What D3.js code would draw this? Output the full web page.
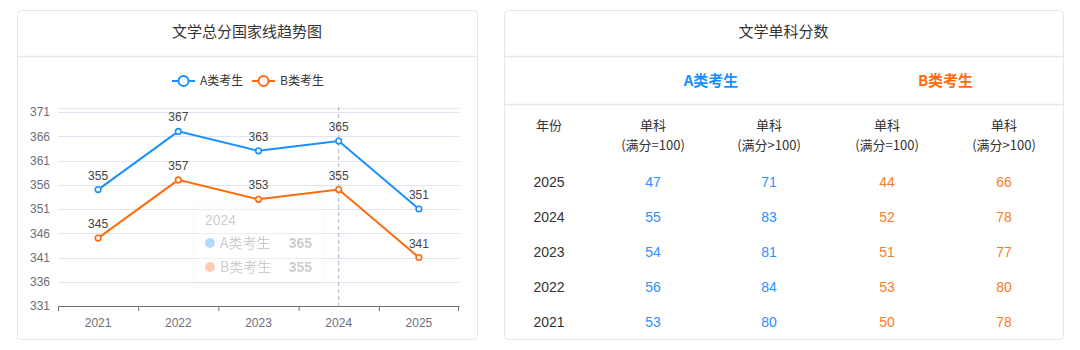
<!DOCTYPE html>
<html><head><meta charset="utf-8">
<script src="https://cdn.jsdelivr.net/npm/d3@7/dist/d3.min.js"></script>
<style>
html,body{margin:0;padding:0;background:#fff;}
svg{display:block;font-family:"Liberation Sans","Noto Sans CJK SC",sans-serif;}
</style></head>
<body>
<svg id="c" width="1080" height="350"></svg>
<script>
// ---- data ----
const years = ["2021","2022","2023","2024","2025"];
const seriesNames = ["A类考生","B类考生"];
const scoreA = [355,367,363,365,351];
const scoreB = [345,357,353,355,341];
const yTicks = [331,336,341,346,351,356,361,366,371];
const tableYears = ["2025","2024","2023","2022","2021"];
const aEq100 = [47,55,54,56,53];
const aGt100 = [71,83,81,84,80];
const bEq100 = [44,52,51,53,50];
const bGt100 = [66,78,77,80,78];
const colHeads = ["单科","(满分=100)","单科","(满分>100)"];

const BLUE="#1890ff", ORANGE="#ff6a0d";
const svg=d3.select("#c");
const CJK='"Noto Sans CJK SC","Liberation Sans",sans-serif';

// cards
function card(x,y,w,h,title,divs){
  svg.append("rect").attr("x",x+0.5).attr("y",y+0.5).attr("width",w).attr("height",h)
    .attr("rx",4).attr("fill","#fff").attr("stroke","#e6e6e6");
  svg.append("text").attr("x",x+w/2).attr("y",y+27).attr("text-anchor","middle")
    .attr("font-size",15).attr("fill","#333").style("font-family",CJK).text(title);
  divs.forEach(d=>svg.append("line").attr("x1",x+1).attr("x2",x+w).attr("y1",d+0.5).attr("y2",d+0.5)
    .attr("stroke","#e8e8e8").attr("stroke-width",1.5));
}
card(17,10,460,329,"文学总分国家线趋势图",[56]);
card(504,10,559,329,"文学单科分数",[56,104]);

// ---- line chart ----
const x=d3.scaleBand().domain(years).range([58,459]);
const y=d3.scaleLinear().domain([331,371]).range([306,112]);
const g=svg.append("g");
// top extra split line (axis max)
g.append("line").attr("x1",58).attr("x2",459).attr("y1",108.5).attr("y2",108.5).attr("stroke","#e0e6f1");
g.selectAll(".grid").data(yTicks.slice(1)).join("line")
  .attr("x1",58).attr("x2",459).attr("y1",d=>Math.round(y(d))+0.5).attr("y2",d=>Math.round(y(d))+0.5)
  .attr("stroke","#e0e6f1");
const yAxis=g.append("g").attr("transform","translate(58,0)")
  .call(d3.axisLeft(y).tickValues(yTicks).tickSize(0).tickPadding(8));
yAxis.select(".domain").remove();
yAxis.selectAll("text").attr("fill","#6e7079").attr("font-size",12).style("font-family","Liberation Sans");
const xAxis=g.append("g").attr("transform","translate(0,306)")
  .call(d3.axisBottom(x).tickSize(5).tickPadding(7));
xAxis.select(".domain").attr("stroke","#6e7079").attr("d","M58.5,0.5H459.5");
xAxis.selectAll(".tick line").remove();
// boundary ticks
const bounds=[58,138,218,298,379,459];
xAxis.selectAll(".bt").data(years.concat(["end"])).join("line")
  .attr("x1",(d,i)=>i<years.length?x(d)+0.5:x.range()[1]-0.5).attr("x2",(d,i)=>i<years.length?x(d)+0.5:x.range()[1]-0.5)
  .attr("y1",0).attr("y2",5).attr("stroke","#6e7079");
xAxis.selectAll("text").attr("fill","#6e7079").attr("font-size",12).style("font-family","Liberation Sans");

// axis pointer
g.append("line").attr("x1",x("2024")+x.bandwidth()/2).attr("x2",x("2024")+x.bandwidth()/2)
  .attr("y1",107).attr("y2",306).attr("stroke","#b0b3c0").attr("stroke-dasharray","4,3");

const cx=d=>x(d)+x.bandwidth()/2;
[[scoreA,BLUE],[scoreB,ORANGE]].forEach(([vals,col])=>{
  const pts=years.map((yr,i)=>[cx(yr),y(vals[i])]);
  g.append("path").attr("d",d3.line()(pts)).attr("fill","none").attr("stroke",col).attr("stroke-width",2);
  g.selectAll(null).data(pts).join("circle").attr("cx",d=>d[0]).attr("cy",d=>d[1]).attr("r",2.8)
    .attr("fill","#fff").attr("stroke",col).attr("stroke-width",1.6);
  g.selectAll(null).data(vals).join("text").attr("x",(d,i)=>cx(years[i])).attr("y",(d)=>y(d)-10)
    .attr("text-anchor","middle").attr("font-size",12).attr("fill","#444").text(d=>d);
});

// legend
const leg=svg.append("g");
[[seriesNames[0],BLUE,172],[seriesNames[1],ORANGE,252]].forEach(([n,c,lx])=>{
  leg.append("line").attr("x1",lx).attr("x2",lx+23).attr("y1",81).attr("y2",81).attr("stroke",c).attr("stroke-width",2);
  leg.append("circle").attr("cx",lx+11.5).attr("cy",81).attr("r",5).attr("fill","#fff").attr("stroke",c).attr("stroke-width",2);
  leg.append("text").attr("x",lx+28).attr("y",85).attr("font-size",12).attr("fill","#333").style("font-family",CJK).text(n);
});

// faded tooltip
const defs=svg.append("defs");
const f=defs.append("filter").attr("id","sh").attr("x","-20%").attr("y","-20%").attr("width","140%").attr("height","140%");
f.append("feDropShadow").attr("dx",0).attr("dy",2).attr("stdDeviation",4).attr("flood-color","#000").attr("flood-opacity",0.12);
const tt=svg.append("g").attr("opacity",0.33);
tt.append("rect").attr("x",195).attr("y",203).attr("width",127).attr("height",79).attr("rx",4)
  .attr("fill","#fff").attr("filter","url(#sh)");
tt.append("text").attr("x",205).attr("y",225).attr("font-size",14).attr("fill","#666").text(years[3]);
[[seriesNames[0],BLUE,scoreA[3],243],[seriesNames[1],ORANGE,scoreB[3],267]].forEach(([n,c,v,ty])=>{
  tt.append("circle").attr("cx",210).attr("cy",ty).attr("r",5).attr("fill",c);
  tt.append("text").attr("x",220).attr("y",ty+5).attr("font-size",14).attr("fill","#666").style("font-family",CJK).text(n);
  tt.append("text").attr("x",312).attr("y",ty+5).attr("text-anchor","end").attr("font-size",14).attr("font-weight","bold").attr("fill","#666").text(v);
});

// ---- table ----
const colX=[549,653,769,887,1004];
svg.append("text").attr("x",(colX[1]+colX[2])/2).attr("y",86).attr("text-anchor","middle")
  .attr("font-size",15).attr("font-weight","bold").attr("fill",BLUE).style("font-family",CJK).text(seriesNames[0]);
svg.append("text").attr("x",(colX[3]+colX[4])/2).attr("y",86).attr("text-anchor","middle")
  .attr("font-size",15).attr("font-weight","bold").attr("fill",ORANGE).style("font-family",CJK).text(seriesNames[1]);
svg.append("text").attr("x",colX[0]).attr("y",130).attr("text-anchor","middle").attr("font-size",13)
  .attr("fill","#333").style("font-family",CJK).text("年份");
[1,2,3,4].forEach(ci=>{
  const sub = ci%2===1 ? colHeads[1] : colHeads[3];
  svg.append("text").attr("x",colX[ci]).attr("y",130).attr("text-anchor","middle").attr("font-size",13)
    .attr("fill","#333").style("font-family",CJK).text(colHeads[0]);
  svg.append("text").attr("x",colX[ci]).attr("y",150).attr("text-anchor","middle").attr("font-size",13)
    .attr("fill","#333").style("font-family",CJK).text(sub);
});
const rowY=d3.scalePoint().domain(tableYears).range([182,322]);
const cols=[[tableYears,"#333"],[aEq100,"#2e8fff"],[aGt100,"#2e8fff"],[bEq100,"#ff7a22"],[bGt100,"#ff7a22"]];
cols.forEach(([vals,c],ci)=>{
  svg.selectAll(null).data(vals).join("text").attr("x",colX[ci]).attr("y",(d,i)=>rowY(tableYears[i])+5)
    .attr("text-anchor","middle").attr("font-size",14).attr("fill",c).text(d=>d);
});
</script>
</body></html>
